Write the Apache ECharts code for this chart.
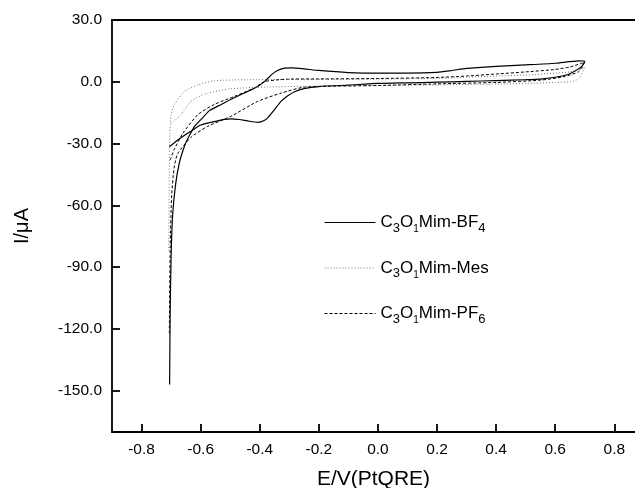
<!DOCTYPE html>
<html>
<head>
<meta charset="utf-8">
<script src="https://cdn.jsdelivr.net/npm/echarts@6/dist/echarts.min.js"></script>
<style>
  html, body { margin: 0; padding: 0; background: #fff; }
  #chart { width: 635px; height: 488px; }
</style>
</head>
<body>
<div id="chart"></div>
<script>
// cyclic voltammograms (E in V, I in uA)
const bf4E = [-0.706, -0.67, -0.633, -0.6, -0.554, -0.52, -0.497, -0.47, -0.441, -0.407, -0.385, -0.37, -0.35, -0.328, -0.305, -0.282, -0.25, -0.2, -0.1, 0.0, 0.1, 0.2, 0.3, 0.4, 0.5, 0.55, 0.6, 0.64, 0.67, 0.69, 0.70,
  0.68, 0.6, 0.5, 0.4, 0.35, 0.3, 0.25, 0.2, 0.1, 0.0, -0.1, -0.2, -0.25, -0.29, -0.316, -0.34, -0.36, -0.384, -0.41, -0.441, -0.49, -0.532, -0.57, -0.6, -0.62, -0.633, -0.645, -0.655, -0.672, -0.685, -0.695, -0.700, -0.703, -0.705]
const bf4I = [-31.5, -27.5, -24, -21, -19.3, -18.2, -18, -18.3, -19, -19.7, -18.8, -17, -13.5, -9.5, -6.8, -4.8, -3.3, -2.3, -1.6, -0.8, -0.5, -0.2, 0.2, 0.6, 1.0, 1.3, 2.2, 3.4, 5.5, 7.5, 10,
  10.2, 9, 8.2, 7.5, 7, 6.5, 5.5, 4.6, 4.2, 4.2, 4.5, 5.5, 6.3, 6.8, 6.6, 5.5, 3.5, 0.1, -2.5, -4.7, -8, -11.1, -14, -18.5, -21.5, -24.7, -28, -31.3, -39.3, -50, -65, -85, -110, -147]

const mesE = [-0.70, -0.69, -0.667, -0.633, -0.6, -0.576, -0.5, -0.384, -0.2, 0.0, 0.2, 0.3, 0.4, 0.5, 0.6, 0.65, 0.68, 0.70,
  0.68, 0.65, 0.6, 0.5, 0.4, 0.3, 0.2, 0.0, -0.2, -0.44, -0.554, -0.61, -0.655, -0.689, -0.70, -0.704, -0.706, -0.707, -0.708]
const mesI = [-20, -19, -16, -9.5, -6.8, -5.5, -3.4, -2.6, -2.1, -1.8, -1.5, -1.3, -1.1, -0.8, -0.3, 0, 1.5, 7,
  6, 4.8, 4.2, 3.3, 2.8, 2.2, 1.7, 1.3, 1.1, 1.0, 0.5, -1.5, -4.7, -11, -16, -25, -40, -60, -82]

const pf6E = [-0.703, -0.69, -0.66, -0.61, -0.554, -0.486, -0.418, -0.384, -0.305, -0.2, 0.0, 0.2, 0.3, 0.4, 0.5, 0.6, 0.65, 0.70,
  0.68, 0.63, 0.55, 0.4, 0.2, 0.0, -0.249, -0.328, -0.407, -0.498, -0.576, -0.633, -0.678, -0.69, -0.698, -0.703, -0.706]
const pf6I = [-38, -33, -25, -16, -11, -7.1, -3, 0.1, 1.3, 1.4, 1.6, 2.1, 2.8, 3.8, 4.8, 6, 7.2, 9.5,
  5, 2.5, 0.8, -0.3, -1, -1.8, -2.6, -5.5, -9.5, -16.8, -21.6, -27, -35, -42, -55, -80, -122]

const xTicks = [-0.8, -0.6, -0.4, -0.2, 0.0, 0.2, 0.4, 0.6, 0.8]
const yTicks = [-150, -120, -90, -60, -30, 0, 30]

const pair = (xs, ys) => xs.map((x, i) => [x, ys[i]])
const font = 'Arial, "Liberation Sans", sans-serif'

const chart = echarts.init(document.getElementById('chart'))

const rich = {
  n: { fontSize: 17, fontFamily: font, color: '#000', verticalAlign: 'middle', lineHeight: 24 },
  s: { fontSize: 13, fontFamily: font, color: '#000', verticalAlign: 'bottom', lineHeight: 24 },
  t: { fontSize: 10, fontFamily: font, color: '#000', verticalAlign: 'bottom', lineHeight: 24 }
}
const labels = {
  BF4: '{n|C}{s|3}{n|O}{t|1}{n|Mim-BF}{s|4}',
  Mes: '{n|C}{s|3}{n|O}{t|1}{n|Mim-Mes}',
  PF6: '{n|C}{s|3}{n|O}{t|1}{n|Mim-PF}{s|6}'
}

const axisLine = { show: true, onZero: false, lineStyle: { color: '#000', width: 1.8 } }

chart.setOption({
  animation: false,
  backgroundColor: '#fff',
  grid: { left: 112, top: 20, right: 0, bottom: 56, containLabel: false, outerBoundsMode: 'none' },
  legend: {
    orient: 'vertical',
    left: 319,
    top: 209,
    itemWidth: 51,
    itemHeight: 14,
    itemGap: 25,
    itemStyle: { opacity: 0 },
    lineStyle: { width: 1 },
    formatter: name => labels[name],
    textStyle: { rich: rich },
    data: ['BF4', 'Mes', 'PF6']
  },
  xAxis: [{
    type: 'value',
    min: -0.9,
    max: 0.87,
    name: 'E/V(PtQRE)',
    nameLocation: 'middle',
    nameGap: 37,
    nameTextStyle: { fontSize: 21, fontFamily: font, color: '#000' },
    axisLine: axisLine,
    axisTick: { show: true, inside: true, length: 8, customValues: xTicks, lineStyle: { color: '#000', width: 1.8 } },
    axisLabel: { customValues: xTicks, fontSize: 15.5, fontFamily: font, color: '#000', margin: 10, formatter: v => v.toFixed(1) },
    splitLine: { show: false }
  }, {
    type: 'value',
    position: 'top',
    min: -0.9,
    max: 0.87,
    axisLine: axisLine,
    axisTick: { show: false },
    axisLabel: { show: false },
    splitLine: { show: false }
  }],
  yAxis: {
    type: 'value',
    min: -170,
    max: 30,
    name: 'I/μA',
    nameLocation: 'middle',
    nameGap: 80,
    nameTextStyle: { fontSize: 20, fontFamily: font, color: '#000' },
    axisLine: axisLine,
    axisTick: { show: true, inside: true, length: 8, customValues: yTicks, lineStyle: { color: '#000', width: 1.8 } },
    axisLabel: { customValues: yTicks, fontSize: 15.5, fontFamily: font, color: '#000', margin: 10, formatter: v => v.toFixed(1) },
    splitLine: { show: false }
  },
  series: [
    {
      name: 'BF4', type: 'line', data: pair(bf4E, bf4I), smooth: 0.2, showSymbol: false, symbol: 'none',
      lineStyle: { color: '#000', width: 1.2, type: 'solid' }, itemStyle: { color: '#000' }
    },
    {
      name: 'Mes', type: 'line', data: pair(mesE, mesI), smooth: 0.2, showSymbol: false, symbol: 'none',
      lineStyle: { color: '#777', width: 1, type: [1, 2] }, itemStyle: { color: '#777' }
    },
    {
      name: 'PF6', type: 'line', data: pair(pf6E, pf6I), smooth: 0.2, showSymbol: false, symbol: 'none',
      lineStyle: { color: '#000', width: 1, type: [3, 2] }, itemStyle: { color: '#000' }
    }
  ]
})
</script>
</body>
</html>
